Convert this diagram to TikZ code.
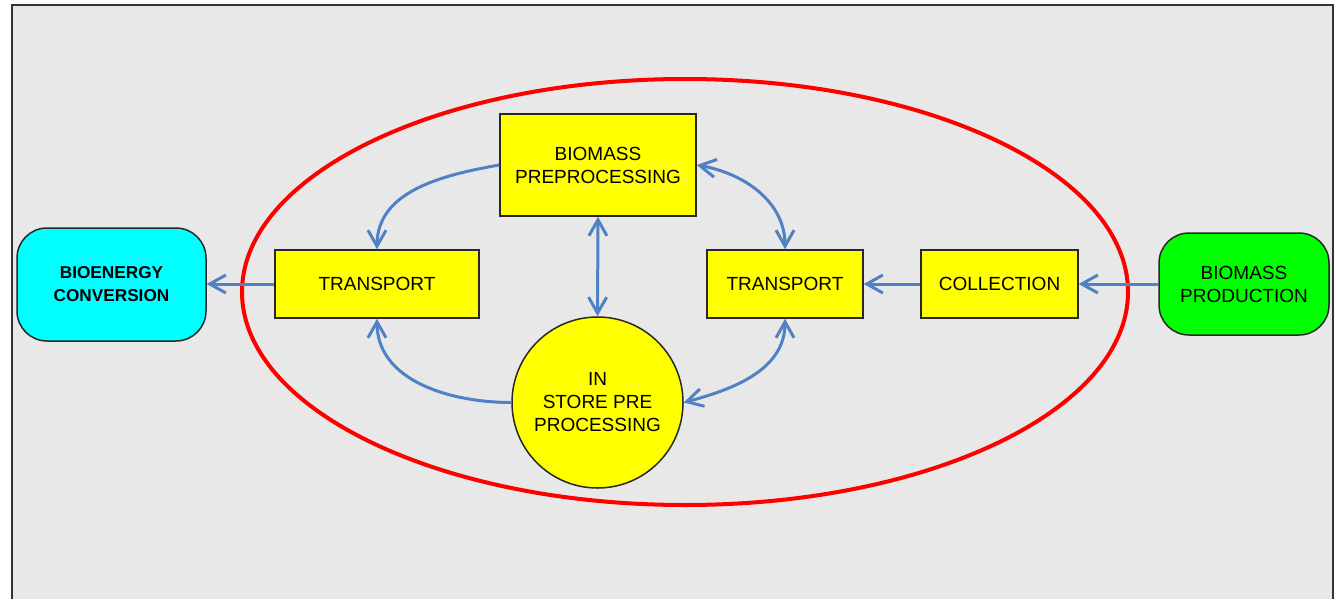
\documentclass[tikz,border=0pt]{standalone}
\usepackage{fontspec}
\setmainfont{Liberation Sans}
\usetikzlibrary{arrows.meta}

\definecolor{bgGray}{RGB}{232,232,232}
\definecolor{flowBlue}{RGB}{79,129,196}
\definecolor{boxEdge}{RGB}{40,40,40}
\definecolor{stageYellow}{RGB}{255,255,0}
\definecolor{convCyan}{RGB}{0,255,255}
\definecolor{prodGreen}{RGB}{0,255,0}

\tikzset{
	stage/.style={draw=boxEdge, line width=0.75pt, fill=stageYellow, inner sep=0pt, align=center,
		font=\fontsize{9.5}{11.5}\selectfont},
	endpoint/.style={stage, rounded corners=15pt},
	barb/.tip={Straight Barb[length=8pt,width=9pt]},
	flow/.style={draw=flowBlue, line width=1.5pt, -barb},
	flowboth/.style={flow, barb-barb}}

\begin{document}
\begin{tikzpicture}[x=0.5pt,y=-0.5pt]
	\useasboundingbox (0,0) rectangle (1336,599);

	%Frame
	\fill[bgGray] (12,5) rectangle (1333,599);
	\draw[line width=0.75pt, black!80] (12,599) -- (12,5) -- (1333,5) -- (1333,599);

	%Shape: Ellipse
	\draw[red, line width=2pt] (685,292) ellipse [x radius=443, y radius=213];

	%Stages
	\node[endpoint, fill=convCyan, minimum width=94.5pt, minimum height=56.5pt,
		font={\fontsize{8.6}{11.5}\selectfont\bfseries}] (conv) at (111.5,284.5) {BIOENERGY\\CONVERSION};
	\node[endpoint, fill=prodGreen, minimum width=85pt, minimum height=51pt] (prod) at (1244,284) {BIOMASS\\PRODUCTION};
	\node[stage, minimum width=102pt, minimum height=34pt] (tl) at (377,284) {TRANSPORT};
	\node[stage, minimum width=98pt, minimum height=51pt] (pre) at (598,165) {BIOMASS\\PREPROCESSING};
	\node[stage, minimum width=78pt, minimum height=34pt] (tr) at (785,284) {TRANSPORT};
	\node[stage, minimum width=78.5pt, minimum height=34pt] (coll) at (999.5,284) {COLLECTION};
	\node[stage, circle, minimum size=85.5pt] (store) at (597.5,402.5) {IN\\STORE PRE\\PROCESSING};

	%Flows
	\draw[flow] (tl.west) -- (tl.west -| conv.east);
	\draw[flow] (coll.west) -- (tr.east);
	\draw[flow] (prod.west) -- (coll.east);
	\draw[flowboth] (pre.south) -- (store.north);
	\draw[flow] (pre.west) to[out=190,in=90] (tl.north);
	\draw[flowboth] (pre.east) to[out=-10,in=90] (tr.north);
	\draw[flow] (store.west) to[out=180,in=-90] (tl.south);
	\draw[flowboth] (store.east) to[out=15,in=-90] (tr.south);

\end{tikzpicture}
\end{document}
